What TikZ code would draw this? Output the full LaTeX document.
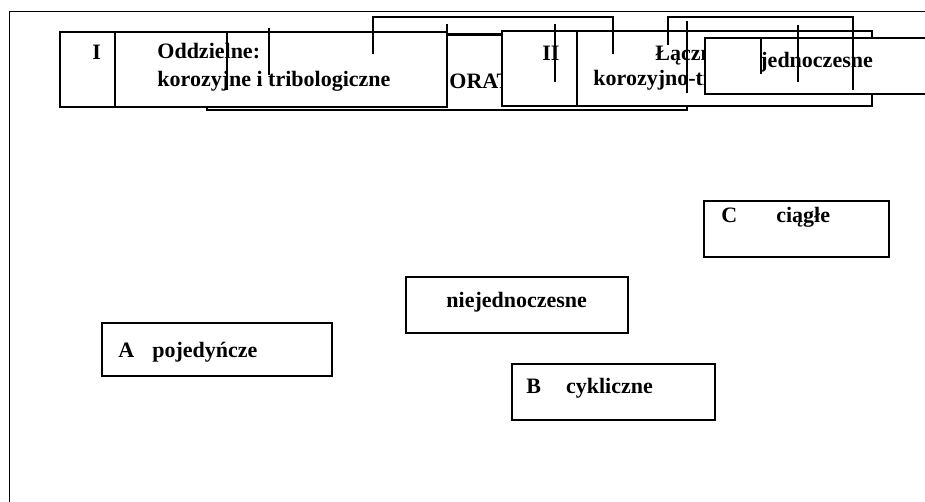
\documentclass[tikz,border=0pt]{standalone}
\usepackage{fontspec}
\setmainfont{Liberation Serif}
\begin{document}
\begin{tikzpicture}[x=0.5pt, y=-0.5pt,
  box/.style={draw, line width=1pt, fill=white},
  lbl/.style={inner sep=0pt, anchor=base west, font=\fontsize{11}{13}\selectfont\bfseries},
  tick/.style={line width=0.9pt}]
  \clip (0,0) rectangle (925,502);
  \draw[line width=0.5pt] (9,520) -- (9,12) -- (940,12);
  \draw[box, line width=1.3pt] (207,34.5) rectangle (687,110);
  \node[lbl] (orat) at (449,89) {ORAT};
  \draw[box] (60,32) rectangle (447,107);
  \draw[line width=1pt] (115,32) -- (115,107);
  \node[lbl] (numI) at (92,60) {I};
  \node[lbl] (oddz) at (157,59) {Oddzielne:};
  \node[lbl] (korI) at (157,87) {korozyjne i tribologiczne};
  \draw[box] (502,31) rectangle (872,106);
  \draw[line width=1pt] (577,31) -- (577,106);
  \node[lbl] (numII) at (542,61) {II};
  \node[lbl] (lacz) at (655,61) {Łączne:};
  \node[lbl] (korII) at (593,86) {korozyjno-tribologiczne};
  \draw[box] (705,38) rectangle (940,94);
  \node[lbl] (jedn) at (760,68) {jednoczesne};
  \draw[box] (406,277) rectangle (628,333);
  \node[lbl] (niej) at (446,307) {niejednoczesne};
  \draw[box] (102,323) rectangle (332,376);
  \node[lbl] (pojed) at (118,357) {A\hspace{9pt}pojedyńcze};
  \draw[box] (704,201) rectangle (889,257);
  \node[lbl] (ciagle) at (721,222) {C\hspace{19.5pt}ciągłe};
  \draw[box] (512,364) rectangle (715,420);
  \node[lbl] (cykl) at (526,393) {B\hspace{12.5pt}cykliczne};
  \foreach \x/\ya/\yb in {227/32/90, 269/28/75, 447/24/107, 555/24/82, 687/21/93, 761/37/74, 798/25/82}
    \draw[tick] (\x,\ya) -- (\x,\yb);
  \draw[tick] (373,54) -- (373,17) -- (613,17) -- (613,54);
  \draw[tick] (668,45) -- (668,17) -- (853,17) -- (853,90);
\end{tikzpicture}
\end{document}
